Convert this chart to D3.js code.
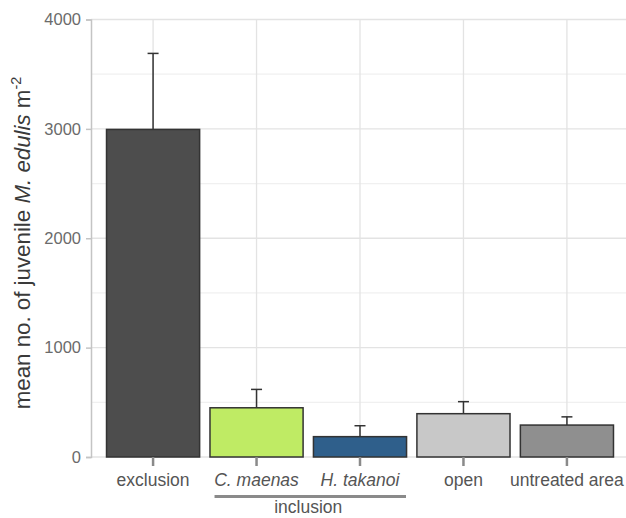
<!DOCTYPE html>
<html>
<head>
<meta charset="utf-8">
<script src="https://cdn.jsdelivr.net/npm/d3@7"></script>
<style>
  html, body { margin: 0; padding: 0; background: #fff; }
  svg { display: block; font-family: "Liberation Sans", Arial, sans-serif; }
</style>
</head>
<body>
<svg id="chart" width="626" height="518"></svg>
<script>
// Treatments, mean density and upper standard error
const categories = ["exclusion", "C. maenas", "H. takanoi", "open", "untreated area"];
const italicCats = ["C. maenas", "H. takanoi"];
const means = [2995, 450, 186, 396, 292];
const errors = [695, 168, 100, 110, 75];
const fills = ["#4d4d4d", "#bfeb64", "#2f5f8b", "#c8c8c8", "#8f8f8f"];
const yTicks = [0, 1000, 2000, 3000, 4000];
const yMinor = [500, 1500, 2500, 3500];
const groupLabel = "inclusion";
const groupMembers = ["C. maenas", "H. takanoi"];

const svg = d3.select("#chart");
const panelLeft = 91, panelRight = 629, panelTop = 19.5, panelBottom = 457;

const x = d3.scaleBand()
  .domain(categories)
  .range([panelLeft, panelRight])
  .paddingInner(0.1)
  .paddingOuter(0.15);

const y = d3.scaleLinear().domain([0, 4000]).range([panelBottom, panelTop]);

const panel = svg.append("g");

// minor gridlines
panel.selectAll("line.minor").data(yMinor).join("line")
  .attr("x1", panelLeft).attr("x2", 626)
  .attr("y1", d => y(d)).attr("y2", d => y(d))
  .attr("stroke", "#f0f0f0").attr("stroke-width", 1.2);

// major gridlines
panel.selectAll("line.major").data(yTicks).join("line")
  .attr("x1", panelLeft).attr("x2", 626)
  .attr("y1", d => y(d)).attr("y2", d => y(d))
  .attr("stroke", "#e3e3e3").attr("stroke-width", 1.3);

panel.selectAll("line.vgrid").data(categories).join("line")
  .attr("x1", d => x(d) + x.bandwidth() / 2).attr("x2", d => x(d) + x.bandwidth() / 2)
  .attr("y1", panelTop).attr("y2", panelBottom)
  .attr("stroke", "#e3e3e3").attr("stroke-width", 1.3);

// bars
panel.selectAll("rect.bar").data(categories).join("rect")
  .attr("x", d => x(d))
  .attr("width", x.bandwidth())
  .attr("y", (d, i) => y(means[i]))
  .attr("height", (d, i) => panelBottom - y(means[i]))
  .attr("fill", (d, i) => fills[i])
  .attr("stroke", "#333")
  .attr("stroke-width", 1.5);

// error bars (upper only)
const eb = panel.selectAll("g.err").data(categories).join("g")
  .attr("transform", d => `translate(${x(d) + x.bandwidth() / 2},0)`);
eb.append("line")
  .attr("x1", 0).attr("x2", 0)
  .attr("y1", (d, i) => y(means[i]))
  .attr("y2", (d, i) => y(means[i] + errors[i]))
  .attr("stroke", "#333").attr("stroke-width", 1.5);
eb.append("line")
  .attr("x1", -5.5).attr("x2", 5.5)
  .attr("y1", (d, i) => y(means[i] + errors[i]))
  .attr("y2", (d, i) => y(means[i] + errors[i]))
  .attr("stroke", "#333").attr("stroke-width", 1.5);

// y axis
const yAxis = svg.append("g")
  .attr("transform", `translate(${panelLeft},0)`)
  .call(d3.axisLeft(y).tickValues(yTicks).tickSize(5).tickPadding(5).tickFormat(d3.format("d")));
yAxis.select(".domain").attr("stroke", "#c4c4c4").attr("stroke-width", 1.5);
yAxis.selectAll(".tick line").attr("stroke", "#c4c4c4").attr("stroke-width", 1.5);
yAxis.selectAll(".tick text").attr("fill", "#6b6b6b").attr("font-size", 16.5);

// x axis
const xAxis = svg.append("g")
  .attr("transform", `translate(0,${panelBottom})`)
  .call(d3.axisBottom(x).tickSize(9).tickPadding(8));
xAxis.select(".domain").remove();
xAxis.selectAll(".tick line").attr("stroke", "#8a8a8a").attr("stroke-width", 2.5);
xAxis.selectAll(".tick text")
  .attr("fill", "#555").attr("font-size", 17.5)
  .attr("font-style", d => italicCats.includes(d) ? "italic" : "normal");

// grouping bracket
const gx0 = x(groupMembers[0]) + x.bandwidth() / 2 - 42;
const gx1 = x(groupMembers[groupMembers.length - 1]) + x.bandwidth() / 2 + 46;
svg.append("line")
  .attr("x1", gx0).attr("x2", gx1)
  .attr("y1", 496.5).attr("y2", 496.5)
  .attr("stroke", "#8a8a8a").attr("stroke-width", 3);
svg.append("text")
  .attr("x", (x(groupMembers[0]) + x(groupMembers[1]) + x.bandwidth()) / 2)
  .attr("y", 513)
  .attr("text-anchor", "middle")
  .attr("fill", "#555").attr("font-size", 17.5)
  .text(groupLabel);

// y axis title
const title = svg.append("text")
  .attr("transform", `translate(30,243) rotate(-90)`)
  .attr("text-anchor", "middle")
  .attr("fill", "#3a3a3a").attr("font-size", 22.3);
title.append("tspan").text("mean no. of juvenile ");
title.append("tspan").attr("font-style", "italic").text("M. edulis");
title.append("tspan").text(" m");
title.append("tspan").attr("font-size", 14.5).attr("dy", -9).text("-2");
</script>
</body>
</html>
